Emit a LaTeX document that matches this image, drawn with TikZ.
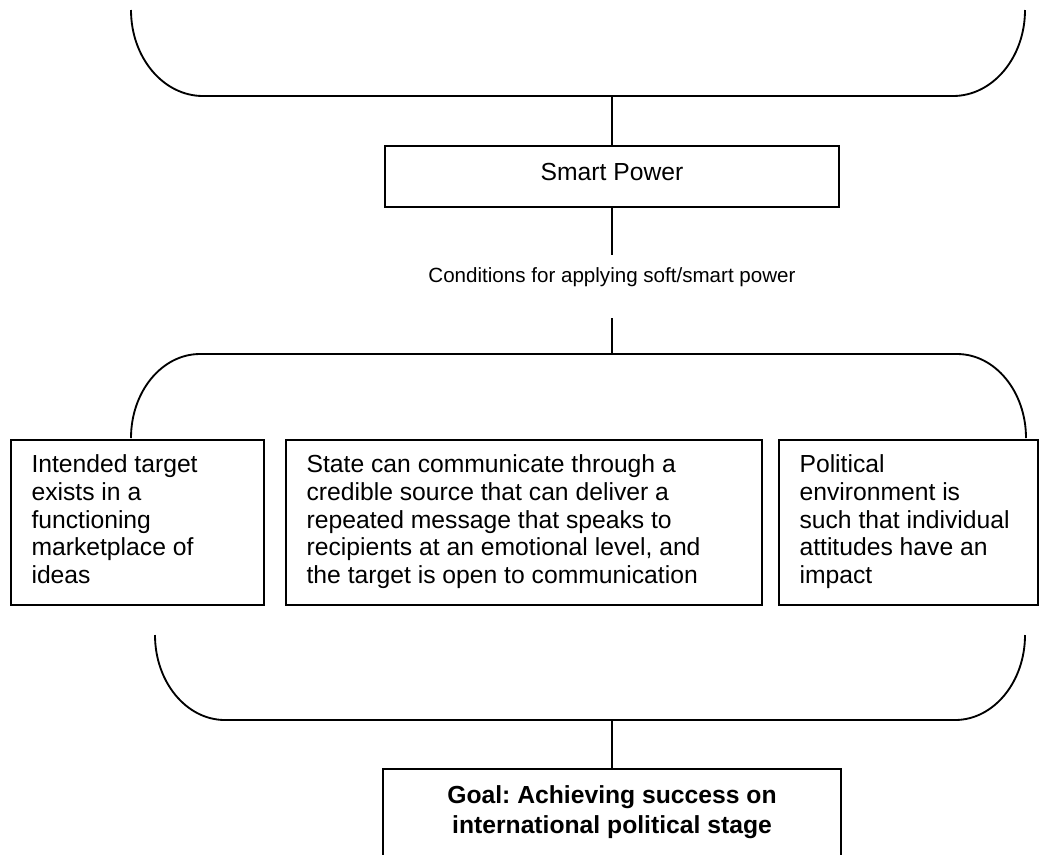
\documentclass[tikz,border=0pt]{standalone}
\usepackage{fontspec}
\setmainfont{Liberation Sans}
\frenchspacing

\begin{document}
\begin{tikzpicture}[
      x=0.486pt, y=-0.486pt,
      every node/.style={font=\fontsize{12}{13.4}\selectfont},
      line/.style={line width=0.9pt},
      headbox/.style={draw, line width=0.9pt, minimum width=220.6pt, minimum height=29.6pt,
        text depth=4.5pt},
      condbox/.style={draw, line width=0.9pt, inner xsep=10pt, inner ysep=7.3pt},
      goalbox/.style={draw, line width=0.9pt, inner xsep=10pt, inner ysep=7.9pt,
        font=\bfseries\fontsize{12}{15}\selectfont},
    ]
    \path[use as bounding box, fill=white] (0,0) rectangle (1044,854);
    \clip (0,0) rectangle (1044,854);

    \coordinate (topmid) at (612,96);
    \coordinate (midtop) at (612,354);
    \coordinate (botmid) at (612,720);

    % brackets
    \draw[line] (131,10) arc[start angle=180, end angle=90, x radius=72, y radius=86]
      -- (topmid) -- (953,96) arc[start angle=90, end angle=0, x radius=72, y radius=86];
    \draw[line] (131,438) arc[start angle=180, end angle=270, x radius=69, y radius=84]
      -- (midtop) -- (957,354) arc[start angle=270, end angle=360, x radius=69, y radius=84];
    \draw[line] (155,635) arc[start angle=180, end angle=90, x radius=70, y radius=85]
      -- (botmid) -- (955,720) arc[start angle=90, end angle=0, x radius=70, y radius=85];

    \node[headbox] (smart) at (612,176.5) {Smart Power};
    \node[anchor=base, inner sep=0pt, font=\fontsize{10}{12}\selectfont,
      text height=13.1pt, text depth=17.5pt] (cond) at (612,282)
      {Conditions for applying soft/smart power};

    \node[condbox] (target) at (137.5,522.5) {\parbox[c][65.6pt][t]{103pt}{\raggedright
      Intended target\\
      exists in a\\
      functioning\\
      marketplace of\\
      ideas}};
    \node[condbox] (source) at (524,522.5) {\parbox[c][65.6pt][t]{211.3pt}{\raggedright
      State can communicate through a\\
      credible source that can deliver a\\
      repeated message that speaks to\\
      recipients at an emotional level, and\\
      the target is open to communication}};
    \node[condbox] (climate) at (908.5,522.5) {\parbox[c][65.6pt][t]{105.9pt}{\raggedright
      Political\\
      environment is\\
      such that individual\\
      attitudes have an\\
      impact}};

    \node[goalbox, anchor=north] (goal) at (612,768) {\parbox[c][60pt][t]{202.6pt}{\centering
      Goal: Achieving success on\\
      international political stage}};

    \draw[line] (topmid) -- (smart);
    \draw[line] (smart) -- (cond);
    \draw[line] (cond) -- (midtop);
    \draw[line] (botmid) -- (goal);
  \end{tikzpicture}
\end{document}
